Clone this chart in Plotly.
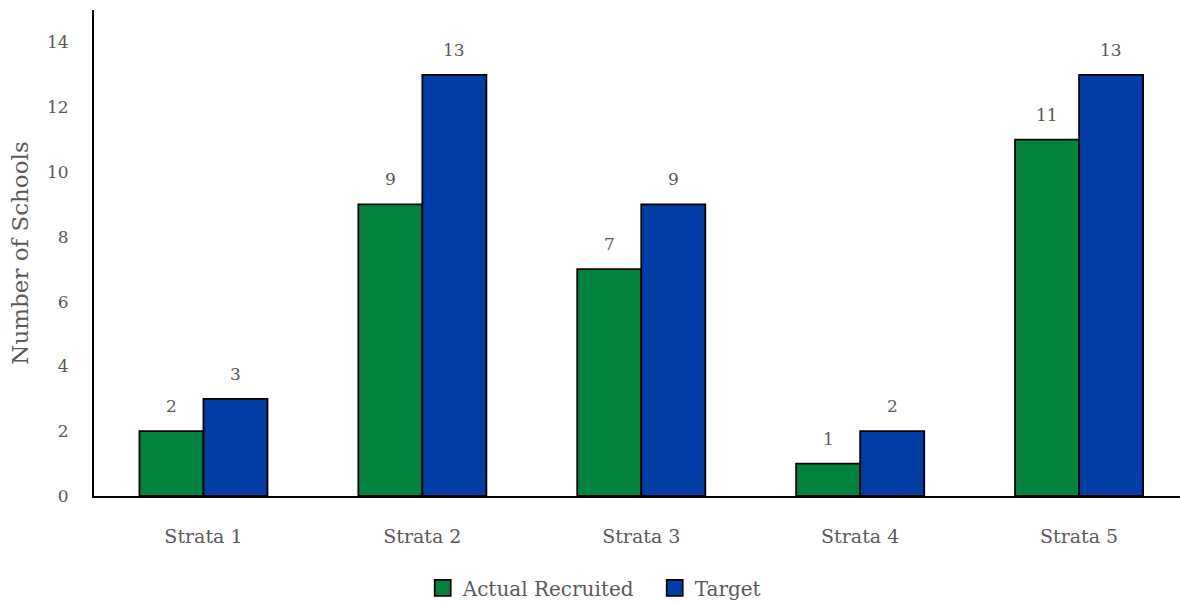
import plotly.graph_objects as go

categories = ["Strata 1", "Strata 2", "Strata 3", "Strata 4", "Strata 5"]
actual_recruited = [2, 9, 7, 1, 11]
target = [3, 13, 9, 2, 13]
y_ticks = [0, 2, 4, 6, 8, 10, 12, 14]
series_names = ["Actual Recruited", "Target"]

FONT = "DejaVu Serif"
GREY = "#595959"
GREEN = "#00833C"
BLUE = "#003DA5"

xs = list(range(len(categories)))
bar_w = 0.2925

fig = go.Figure()
for name, vals, col in ((series_names[0], actual_recruited, GREEN),
                        (series_names[1], target, BLUE)):
    fig.add_trace(go.Bar(name=name, x=xs, y=vals, showlegend=False,
                         marker=dict(color=col, line=dict(color="black", width=1.8))))
for name, col in ((series_names[0], GREEN), (series_names[1], BLUE)):
    fig.add_trace(go.Scatter(name=name, x=[None], y=[None], mode="markers",
                             marker=dict(symbol="square", size=16, color=col,
                                         line=dict(color="black", width=1.8))))

for i, (a, t) in enumerate(zip(actual_recruited, target)):
    for off, v in ((-bar_w / 2, a), (bar_w / 2, t)):
        fig.add_annotation(x=i + off, y=v, text=str(v), showarrow=False,
                           yshift=25, font=dict(family=FONT, size=17, color=GREY))

fig.update_layout(
    width=1180, height=601,
    margin=dict(l=94, r=0, t=10, b=105, autoexpand=False),
    paper_bgcolor="white", plot_bgcolor="white",
    barmode="group", bargap=0.415, bargroupgap=0,
    font=dict(family=FONT, size=17, color=GREY),
    showlegend=True,
    legend=dict(orientation="h", x=0.5163, xanchor="center", xref="paper",
                y=-0.189, yanchor="middle", font=dict(family=FONT, size=20, color=GREY),
                itemwidth=30, traceorder="normal", tracegroupgap=0,
                entrywidth=187, entrywidthmode="pixels"),
    xaxis=dict(range=[-0.5, 4.461], tickvals=xs, ticktext=categories,
               showline=True, linecolor="black", linewidth=2, showgrid=False,
               zeroline=False, ticks="", ticklabelstandoff=22,
               tickfont=dict(family=FONT, size=19, color=GREY)),
    yaxis=dict(range=[0, 15], tickvals=y_ticks, showline=True, linecolor="black",
               linewidth=2, showgrid=False, zeroline=False, ticks="",
               ticklabelstandoff=20,
               tickfont=dict(family=FONT, size=17, color=GREY)),
)
fig.update_yaxes(title=dict(text="Number of Schools", standoff=12,
                            font=dict(family=FONT, size=23, color=GREY)))

fig.write_html("out.html")
